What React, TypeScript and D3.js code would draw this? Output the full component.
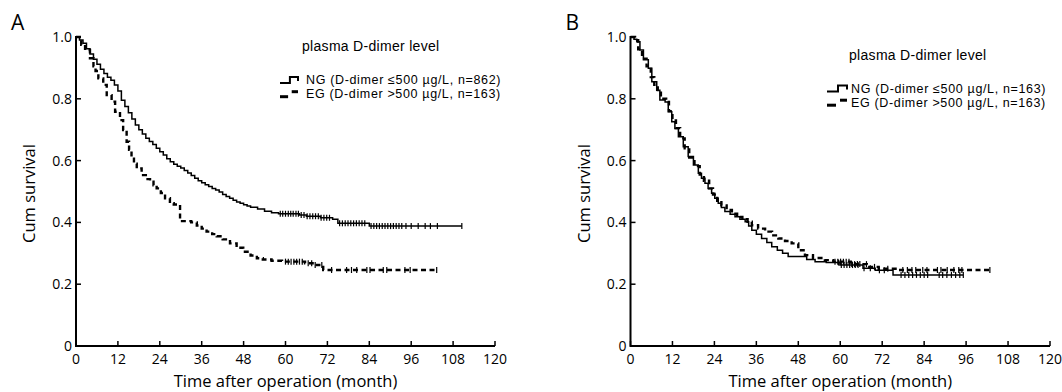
import * as d3 from "d3";
import React from "react";

// axis ticks
const xTicks = [0, 12, 24, 36, 48, 60, 72, 84, 96, 108, 120];
const yTicks = [0, 0.2, 0.4, 0.6, 0.8, 1.0];
const yTickLabels = ["0", "0.2", "0.4", "0.6", "0.8", "1.0"];

// panel A, NG (solid): [month, cum survival] at each step
const ngA: [number, number][] = [
  [0, 1.0], [1, 0.99], [2, 0.98], [3, 0.962], [4, 0.945], [5, 0.928], [6, 0.912], [7, 0.896],
  [8, 0.882], [9, 0.87], [10, 0.86], [11, 0.845], [12, 0.825], [13, 0.795], [14, 0.775], [15, 0.755],
  [16, 0.735], [17, 0.715], [18, 0.7], [19, 0.686], [20, 0.672], [21, 0.662], [22, 0.652], [23, 0.64],
  [24, 0.629], [25, 0.618], [26, 0.606], [27, 0.596], [28, 0.588], [29, 0.582], [30, 0.576], [31, 0.568],
  [32, 0.56], [33, 0.552], [34, 0.543], [35, 0.535], [36, 0.528], [37, 0.522], [38, 0.516], [39, 0.51],
  [40, 0.505], [41, 0.498], [42, 0.49], [43, 0.484], [44, 0.478], [45, 0.472], [46, 0.466], [47, 0.462],
  [48, 0.457], [49, 0.453], [50, 0.449], [52, 0.443], [54, 0.436], [56, 0.431], [58, 0.428], [64, 0.424],
  [66, 0.42], [70, 0.415], [73.5, 0.41], [75, 0.397], [84, 0.388],
];
const ngAEnd = 110.5;
const ngACensor = [
  58.5, 59.2, 60, 60.8, 61.5, 62.2, 63, 63.7, 64.5, 65.3, 66.2, 67, 67.8, 68.6, 69.4, 70.2, 71, 71.8, 72.6,
  75.5, 76.3, 77.1, 77.9, 78.7, 79.5, 80.3, 81.1, 81.9, 82.7, 84.5, 85.3, 86.1, 86.9, 87.7, 88.5, 89.3,
  90.1, 90.9, 91.7, 92.5, 93.3, 94.5, 96, 98, 100, 101.5, 103.5, 110.5,
];

// panel A, EG (dashed)
const egA: [number, number][] = [
  [0, 1.0], [1.5, 0.975], [2.6, 0.958], [4, 0.931], [5, 0.905], [5.6, 0.89], [6.4, 0.866], [7.8, 0.845],
  [8.8, 0.812], [10.2, 0.791], [11.2, 0.758], [12.6, 0.731], [13.5, 0.699], [14.5, 0.661], [15.2, 0.635],
  [15.9, 0.613], [16.6, 0.59], [17.4, 0.575], [18.8, 0.553], [20, 0.54], [21.2, 0.532], [22.2, 0.52],
  [23.1, 0.51], [24.3, 0.495], [25.5, 0.478], [26.9, 0.462], [28, 0.458], [29.8, 0.404], [33, 0.4],
  [34.6, 0.39], [36, 0.38], [37.4, 0.37], [39, 0.362], [40.3, 0.355], [42, 0.345], [44.1, 0.332],
  [46, 0.318], [47.9, 0.305], [50, 0.293], [51.8, 0.284], [53.5, 0.28], [56, 0.276], [59, 0.273],
  [65.6, 0.268], [68.5, 0.262], [70.8, 0.246],
];
const egAEnd = 103.3;
const egACensor = [
  60, 60.8, 61.6, 62.4, 63.2, 64, 64.8, 66.5, 67.5, 68.5, 70.4, 73.2, 77.5, 78.9, 80.4, 83.3, 84.2,
  88, 89, 94.2, 95.7, 103.3,
];

// panel B, NG (solid)
const ngB: [number, number][] = [
  [0, 1.0], [1, 0.993], [1.8, 0.985], [2.7, 0.958], [3.7, 0.926], [5.1, 0.899], [6.1, 0.855], [7.5, 0.828],
  [8.4, 0.796], [9.9, 0.79], [10.8, 0.758], [11.8, 0.726], [12.7, 0.704], [13.7, 0.677], [15.1, 0.645],
  [16.5, 0.613], [18, 0.586], [19.4, 0.559], [20.3, 0.543], [21.3, 0.527], [22.2, 0.51], [23.2, 0.494],
  [24.1, 0.478], [25.1, 0.462], [26, 0.448], [27, 0.435], [28.5, 0.426], [29.9, 0.418], [31.3, 0.41],
  [32.8, 0.402], [33.8, 0.388], [34.7, 0.375], [36, 0.362], [37.5, 0.348], [39, 0.335], [40.4, 0.321],
  [42, 0.31], [43.5, 0.3], [45.1, 0.29], [50.4, 0.28], [52.8, 0.273], [56, 0.27], [59.9, 0.262],
  [66.5, 0.252], [70, 0.245], [75.1, 0.23],
];
const ngBEnd = 95.2;
const ngBCensor = [
  59.5, 60.3, 61.1, 61.9, 62.7, 63.5, 64.3, 65.1, 66.8, 68.6, 71.2, 72.6, 77.4, 78.5, 79.6, 80.7, 81.8,
  82.9, 84, 85, 88.3, 89.3, 90.5, 91.8, 93, 94.2, 95.2,
];

// panel B, EG (dashed)
const egB: [number, number][] = [
  [0, 1.0], [1.3, 0.99], [2.2, 0.96], [3.3, 0.93], [4.6, 0.905], [5.8, 0.87], [6.8, 0.845], [7.8, 0.82],
  [8.7, 0.8], [10.2, 0.79], [11, 0.76], [12, 0.73], [13, 0.705], [14.2, 0.672], [15.5, 0.64], [16.8, 0.61],
  [18.3, 0.582], [19.8, 0.555], [21, 0.535], [22.5, 0.51], [23.6, 0.49], [24.8, 0.47], [26, 0.455],
  [27.5, 0.44], [29, 0.428], [30.5, 0.418], [32, 0.41], [33.5, 0.402], [34.7, 0.391], [36.5, 0.38],
  [38.5, 0.37], [40.5, 0.358], [42.3, 0.348], [44.2, 0.34], [46.1, 0.332], [48, 0.31], [49.9, 0.294],
  [52.2, 0.285], [55.6, 0.278], [58, 0.273], [63, 0.265], [67.6, 0.256], [71, 0.25], [76.2, 0.246],
];
const egBEnd = 102.8;
const egBCensor = [
  58.5, 59.3, 60.1, 60.9, 61.7, 62.5, 63.3, 64.1, 64.9, 65.6, 67.5, 69.8, 73.6, 77.9, 79.2, 80.5, 81.6,
  83.6, 84.8, 87.8, 88.8, 90.6, 92.5, 93.9, 94.8, 102.8,
];

const legendTitle = "plasma D-dimer level";
const legendA = ["NG (D-dimer ≤500 µg/L, n=862)", "EG (D-dimer >500 µg/L, n=163)"];
const legendB = ["NG (D-dimer ≤500 µg/L, n=163)", "EG (D-dimer >500 µg/L, n=163)"];

type Curve = { steps: [number, number][]; end: number; censor: number[]; dashed: boolean };

const font = "'Open Sans', sans-serif";
const legendFont = "'Liberation Sans', Arial, sans-serif";
const rowGap = 14.2;

const survAt = (steps: [number, number][], t: number) => {
  const i = d3.bisector((d: [number, number]) => d[0]).right(steps, t) - 1;
  return steps[Math.max(0, i)][1];
};

const Panel = ({ letter, left, right, curves, legend, lx, ly, tx, sw }: {
  letter: string; left: number; right: number; curves: Curve[]; legend: string[];
  lx: number; ly: number; tx: number; sw: number;
}) => {
  const top = 37, bottom = 346;
  const x = d3.scaleLinear([0, 120], [left, right]);
  const y = d3.scaleLinear([0, 1], [bottom, top]);
  const line = d3.line<[number, number]>().x(d => x(d[0])).y(d => y(d[1])).curve(d3.curveStepAfter);
  const r1 = ly + 33, r2 = r1 + rowGap;

  return (
    <g fontFamily={font} fill="#000">
      <text x={left - 65} y={30} fontSize={21}>{letter}</text>
      <text transform={`translate(${left - 41},${(top + bottom) / 2 + 2}) rotate(-90)`} textAnchor="middle" fontSize={16.5}>Cum survival</text>
      <text x={(left + right) / 2} y={387} textAnchor="middle" fontSize={16.5}>Time after operation (month)</text>

      {yTicks.map((v, i) => (
        <g key={"y" + v}>
          <line x1={left} x2={left + 5} y1={y(v)} y2={y(v)} stroke="#000" strokeWidth={1.5} />
          <text x={left - 4} y={y(v) + 5} textAnchor="end" fontSize={14}>{yTickLabels[i]}</text>
        </g>
      ))}
      {xTicks.map(v => (
        <g key={"x" + v}>
          <line x1={x(v)} x2={x(v)} y1={bottom} y2={bottom - 5} stroke="#000" strokeWidth={1.5} />
          <text x={x(v)} y={bottom + 18} textAnchor="middle" fontSize={14}>{v}</text>
        </g>
      ))}
      <path d={`M${left},${top - 1}V${bottom}H${right}`} fill="none" stroke="#000" strokeWidth={2} />

      {curves.map((c, k) => {
        const pts: [number, number][] = [...c.steps, [c.end, c.steps[c.steps.length - 1][1]]];
        return (
          <g key={k}>
            <path d={line(pts) ?? ""} fill="none" stroke="#000"
              strokeWidth={c.dashed ? 2.4 : 1.5} strokeDasharray={c.dashed ? "5 3.5" : undefined} />
            {c.censor.map((t, j) => (
              <line key={j} x1={x(t)} x2={x(t)} y1={y(survAt(c.steps, t)) - 3} y2={y(survAt(c.steps, t)) + 3}
                stroke="#000" strokeWidth={1.2} />
            ))}
          </g>
        );
      })}

      <g fontFamily={legendFont}>
        <text x={lx + 22} y={ly} fontSize={14} letterSpacing={0.3}>{legendTitle}</text>
        <path d={`M${lx},${r1 - 1}H${lx + sw * 0.55}V${r1 - 7}H${lx + sw}V${r1 - 3}`} fill="none" stroke="#000" strokeWidth={2} />
        <line x1={lx} x2={lx + sw * 0.45} y1={r2 - 1.5} y2={r2 - 1.5} stroke="#000" strokeWidth={3} />
        <line x1={lx + sw * 0.65} x2={lx + sw} y1={r2 - 6.5} y2={r2 - 6.5} stroke="#000" strokeWidth={3} />
        <text x={lx + tx} y={r1} fontSize={12.5} letterSpacing={0.65}>{legend[0]}</text>
        <text x={lx + tx} y={r2} fontSize={12.5} letterSpacing={0.65}>{legend[1]}</text>
      </g>
    </g>
  );
};

export default function App() {
  return (
    <svg width={1062} height={392} style={{ position: "absolute", left: 0, top: 0, background: "#fff" }}>
      <rect width={1062} height={392} fill="#fff" />
      <Panel letter="A" left={76} right={495} lx={280} ly={51} tx={26} sw={18}
        curves={[
          { steps: ngA, end: ngAEnd, censor: ngACensor, dashed: false },
          { steps: egA, end: egAEnd, censor: egACensor, dashed: true },
        ]}
        legend={legendA} />
      <Panel letter="B" left={630.5} right={1050} lx={827} ly={59.5} tx={24} sw={20}
        curves={[
          { steps: ngB, end: ngBEnd, censor: ngBCensor, dashed: false },
          { steps: egB, end: egBEnd, censor: egBCensor, dashed: true },
        ]}
        legend={legendB} />
    </svg>
  );
}
